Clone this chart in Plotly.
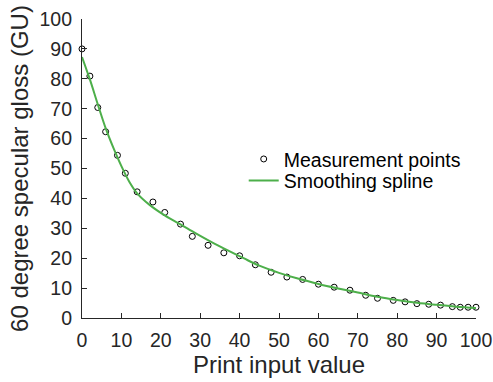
import plotly.graph_objects as go

# Measurement points
x_meas = [0, 2, 4, 6, 9, 11, 14, 18, 21, 25, 28, 32, 36, 40, 44, 48, 52, 56, 60,
          64, 68, 72, 75, 79, 82, 85, 88, 91, 94, 96, 98, 100]
y_meas = [90.0, 80.9, 70.4, 62.3, 54.4, 48.4, 42.2, 38.8, 35.3, 31.4, 27.3, 24.3,
          21.8, 20.8, 17.8, 15.3, 13.7, 12.9, 11.3, 10.3, 9.3, 7.6, 6.6, 5.9, 5.4,
          4.8, 4.6, 4.3, 3.8, 3.6, 3.6, 3.6]

# Smoothing spline
x_spline = [0, 2, 4, 6, 8, 10, 12, 14, 17, 21, 25, 29, 33, 37, 41, 45, 50, 55,
            60, 65, 70, 75, 80, 85, 90, 95, 100]
y_spline = [87.3, 79.8, 71.5, 63.5, 56.8, 50.8, 45.6, 41.7, 38.0, 34.3, 31.3,
            28.2, 25.3, 22.6, 20.0, 17.5, 15.1, 13.1, 11.4, 9.9, 8.5, 7.1, 6.0,
            5.1, 4.4, 3.8, 3.35]

x_ticks = [0, 10, 20, 30, 40, 50, 60, 70, 80, 90, 100]
y_ticks = [0, 10, 20, 30, 40, 50, 60, 70, 80, 90, 100]

TXT = "#262626"
FONT = "Liberation Sans, Arial, Helvetica, sans-serif"

fig = go.Figure()
fig.add_trace(go.Scatter(
    x=x_meas, y=y_meas, mode="markers", name="Measurement points",
    marker=dict(symbol="circle-open", size=6, color="black", line=dict(width=1)),
    cliponaxis=False, legend="legend",
))
fig.add_trace(go.Scatter(
    x=x_spline, y=y_spline, mode="lines", name="Smoothing spline",
    line=dict(color="#4daf4a", width=2, shape="spline", smoothing=1.0),
    legend="legend2",
))

W, H = 493, 382
ml, mr, mt, mb = 81.5, 17.3, 19.3, 64.3
pw = W - ml - mr
ph = H - mt - mb

def px_to_paper_x(px):
    return (px - ml) / pw

def py_to_paper_y(py):
    return (H - mb - py) / ph

axis_common = dict(
    showline=True, linecolor=TXT, linewidth=1.2, mirror=False,
    ticks="inside", ticklen=5, tickwidth=1, tickcolor=TXT,
    showgrid=False, zeroline=False,
    tickfont=dict(family=FONT, size=19.5, color=TXT),
    automargin=False,
)

fig.update_layout(
    width=W, height=H,
    margin=dict(l=ml, r=mr, t=mt, b=mb, pad=0),
    paper_bgcolor="white", plot_bgcolor="white",
    font=dict(family=FONT, color=TXT),
    xaxis=dict(range=[0, 100], tickvals=x_ticks, ticklabelstandoff=4,
               title=dict(text="Print input value", standoff=6,
                          font=dict(family=FONT, size=24, color=TXT)),
               **axis_common),
    yaxis=dict(range=[0, 100], tickvals=y_ticks, ticklabelstandoff=5,
               title=dict(text="60 degree specular gloss (GU)", standoff=4,
                          font=dict(family=FONT, size=24, color=TXT)),
               **axis_common),
    legend=dict(x=px_to_paper_x(243.3), y=py_to_paper_y(159.3), xanchor="left",
                yanchor="middle", bgcolor="rgba(0,0,0,0)", borderwidth=0,
                font=dict(family=FONT, size=19.5, color="black")),
    legend2=dict(x=px_to_paper_x(243.3), y=py_to_paper_y(180.7), xanchor="left",
                 yanchor="middle", bgcolor="rgba(0,0,0,0)", borderwidth=0,
                 font=dict(family=FONT, size=19.5, color="black")),
    showlegend=True,
)

fig.write_html("out.html", config={"displayModeBar": False},
               post_script="document.body.style.margin='0';")
